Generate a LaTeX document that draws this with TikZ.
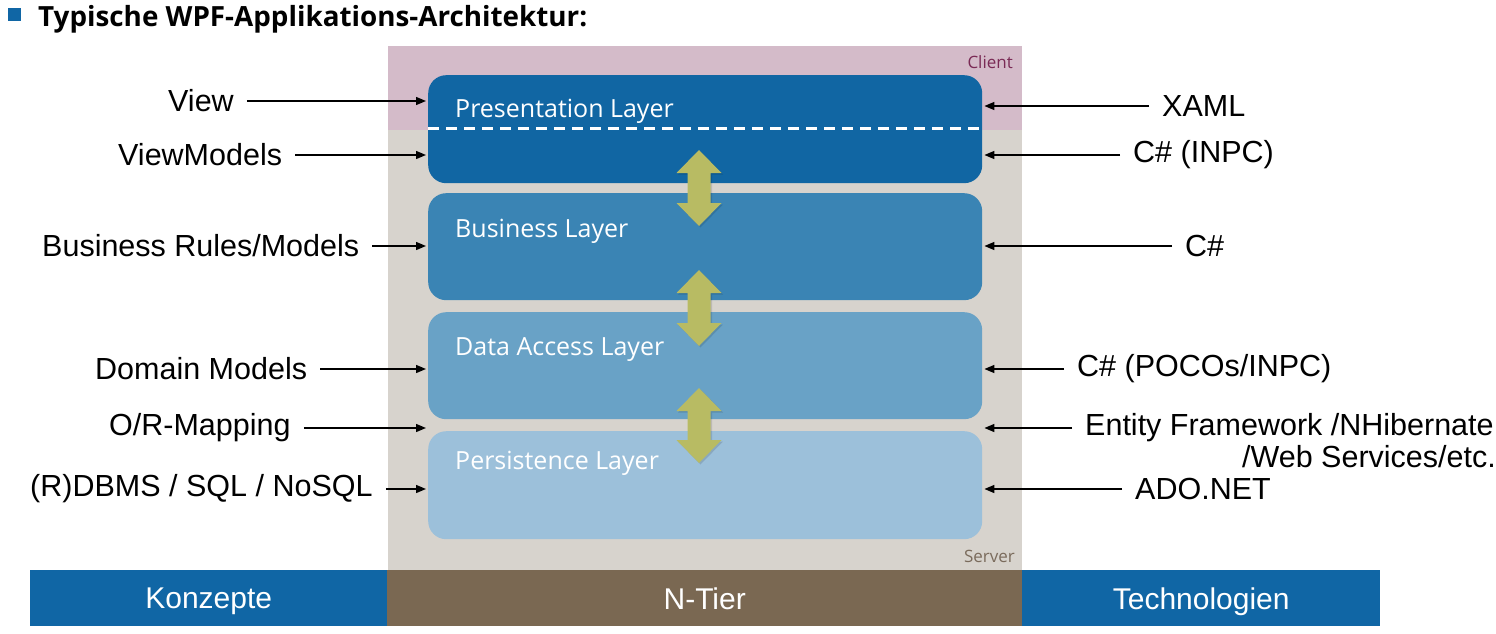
\documentclass[tikz,border=0pt]{standalone}
\usepackage{fontspec}
\setmainfont{Liberation Sans}
\newfontfamily\segoe{Open Sans}
\usetikzlibrary{arrows.meta}
\definecolor{clientbg}{HTML}{D4BBC9}
\definecolor{serverbg}{HTML}{D7D3CD}
\definecolor{clienttxt}{HTML}{7A2A55}
\definecolor{servertxt}{HTML}{7A6B5C}
\definecolor{barblue}{HTML}{1066A5}
\definecolor{barbrown}{HTML}{7A6852}
\definecolor{layA}{HTML}{1166A3}
\definecolor{layB}{HTML}{3A84B4}
\definecolor{layC}{HTML}{69A2C6}
\definecolor{layD}{HTML}{9CC0DA}
\definecolor{agreen}{HTML}{B8BB63}
\tikzset{
  lbl/.style={font=\fontsize{30.5}{36}\selectfont, inner sep=0pt, anchor=west},
  rlbl/.style={font=\fontsize{30.5}{36}\selectfont, inner sep=0pt, anchor=west},
  arr/.style={-{Triangle[length=10pt,width=8pt]}, line width=1.4pt, shorten >=2pt},
  layer/.style={rounded corners=18pt, minimum width=554pt, anchor=north west, inner sep=0pt},
  laytxt/.style={font=\segoe\fontsize{25}{30}\selectfont, text=white, anchor=base west, inner sep=0pt},
  bar/.style={anchor=north west, inner sep=0pt, minimum height=56pt, text depth=0pt, text=white, font=\fontsize{30}{36}\selectfont},
  zone/.style={anchor=north west, inner sep=0pt, minimum width=634pt},
  zonetxt/.style={font=\segoe\fontsize{17}{20}\selectfont, inner sep=0pt, anchor=base east},
}
\begin{document}
\begin{tikzpicture}[x=1pt,y=-1pt]
\useasboundingbox (0,0) rectangle (1496,634);
% title
\node[fill=barblue, minimum size=13pt, inner sep=0pt, anchor=north west] (bullet) at (8,8) {};
\node[font=\segoe\bfseries\fontsize{27.8}{32}\selectfont, anchor=base west, inner sep=0pt] (title) at (38,27) {Typische WPF-Applikations-Architektur:};
% zones
\node[zone, fill=clientbg, minimum height=84pt] (client) at (388,46) {};
\node[zone, fill=serverbg, minimum height=440pt] (server) at (388,130) {};
\node[zonetxt, text=clienttxt] (clientT) at (1013,68) {Client};
\node[zonetxt, text=servertxt] (serverT) at (1015,562) {Server};
% bottom bars
\node[bar, fill=barblue, minimum width=357pt] (konz) at (30,570) {Konzepte};
\node[bar, fill=barbrown, minimum width=635pt] (ntier) at (387,570) {N-Tier};
\node[bar, fill=barblue, minimum width=358pt] (tech) at (1022,570) {Technologien};
% layers
\node[layer, fill=layA, minimum height=108pt] (pres) at (428,75) {};
\node[layer, fill=layB, minimum height=107pt] (bus) at (428,193) {};
\node[layer, fill=layC, minimum height=107pt] (data) at (428,312) {};
\node[layer, fill=layD, minimum height=108pt] (pers) at (428,431) {};
\draw[white, line width=3pt, dash pattern=on 11pt off 7pt] (pres.west |- 0,128) -- (pres.east |- 0,128);
\node[laytxt] (presT) at (455,117) {Presentation Layer};
\node[laytxt] (busT) at (455,237) {Business Layer};
\node[laytxt] (dataT) at (455,355) {Data Access Layer};
\node[laytxt] (persT) at (455,469) {Persistence Layer};
% double arrows
\foreach \t/\b in {150/226, 270/346, 388/463}{
  \fill[black, opacity=0.12] (700.5,\t+1.5) -- (723,\t+24.5) -- (712,\t+24.5) -- (712,\b-21.5) -- (723,\b-21.5)
     -- (700.5,\b+1.5) -- (678,\b-21.5) -- (689,\b-21.5) -- (689,\t+24.5) -- (678,\t+24.5) -- cycle;
  \fill[agreen] (699,\t) -- (721.5,\t+23) -- (710.5,\t+23) -- (710.5,\b-23) -- (721.5,\b-23)
     -- (699,\b) -- (676.5,\b-23) -- (687.5,\b-23) -- (687.5,\t+23) -- (676.5,\t+23) -- cycle;
}
% left labels
\node[lbl] (lView) at (168,101) {View};
\node[lbl] (lVM) at (118,155) {ViewModels};
\node[lbl] (lBR) at (42,246) {Business Rules/Models};
\node[lbl] (lDM) at (95,369) {Domain Models};
\node[lbl] (lOR) at (109,428) {O/R-Mapping};
\node[lbl] (lDB) at (30,489) {(R)DBMS / SQL / NoSQL};
\draw[arr] ([xshift=13pt]lView.east) -- (lView.east -| pres.west);
\draw[arr] ([xshift=13pt]lVM.east) -- (lVM.east -| pres.west);
\draw[arr] ([xshift=13pt]lBR.east) -- (lBR.east -| bus.west);
\draw[arr] ([xshift=13pt]lDM.east) -- (lDM.east -| data.west);
\draw[arr] ([xshift=13pt]lOR.east) -- (lOR.east -| pers.west);
\draw[arr] ([xshift=13pt]lDB.east) -- (lDB.east -| pers.west);
% right labels
\node[rlbl] (rXAML) at (1162,106) {XAML};
\node[rlbl] (rINPC) at (1133,155) {C\# (INPC)};
\node[rlbl] (rCS) at (1185,246) {C\#};
\node[rlbl] (rPOCO) at (1077,369) {C\# (POCOs/INPC)};
\node[rlbl] (rEF) at (1085,428) {Entity Framework /NHibernate};
\node[font=\fontsize{30.5}{36}\selectfont, inner sep=0pt, anchor=east] (rEF2) at (1496,457) {/Web Services/etc.};
\node[rlbl] (rADO) at (1135,489) {ADO.NET};
\draw[arr] ([xshift=-13pt]rXAML.west) -- (rXAML.west -| pres.east);
\draw[arr] ([xshift=-13pt]rINPC.west) -- (rINPC.west -| pres.east);
\draw[arr] ([xshift=-13pt]rCS.west) -- (rCS.west -| bus.east);
\draw[arr] ([xshift=-13pt]rPOCO.west) -- (rPOCO.west -| data.east);
\draw[arr] ([xshift=-13pt]rEF.west) -- (rEF.west -| pers.east);
\draw[arr] ([xshift=-13pt]rADO.west) -- (rADO.west -| pers.east);
\end{tikzpicture}
\end{document}
